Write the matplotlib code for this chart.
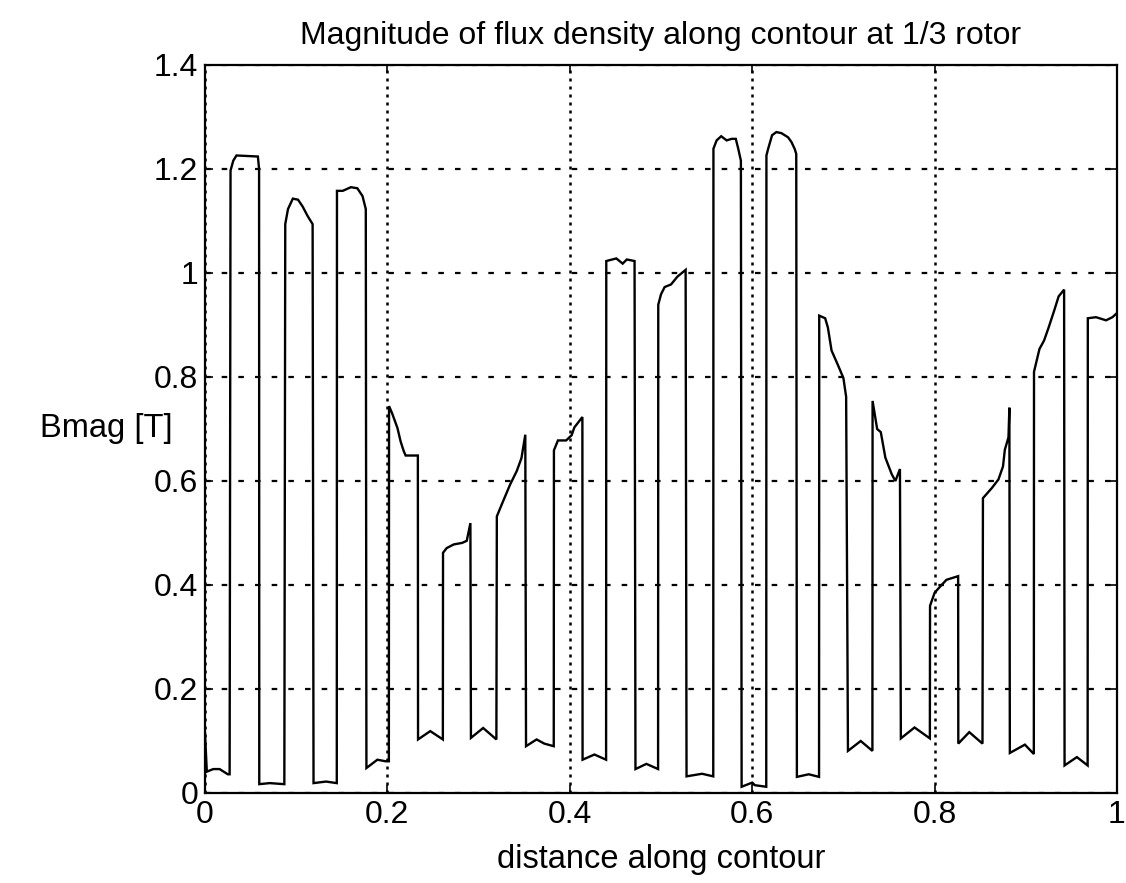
"""Magnitude of flux density along a contour at 1/3 of the rotor (scanned MATLAB-style plot)."""
import matplotlib
matplotlib.use("Agg")
import matplotlib.pyplot as plt
from matplotlib.ticker import FormatStrFormatter

plt.rcParams["font.family"] = ["Liberation Sans", "DejaVu Sans"]

# trace: normalised distance along contour -> |B| in tesla
dist = [
    0.000, 0.002, 0.009, 0.016, 0.025, 0.027,
    0.028, 0.031, 0.0345, 0.058, 0.0593,
    0.0595, 0.071, 0.087,
    0.088, 0.091, 0.0963, 0.102, 0.107, 0.1127, 0.118,
    0.119, 0.1327, 0.1445,
    0.1447, 0.151, 0.160, 0.167, 0.1727, 0.1763,
    0.177, 0.189, 0.198, 0.2016,
    0.2018, 0.205, 0.211, 0.2145, 0.218, 0.220, 0.2334,
    0.2336, 0.247, 0.2608,
    0.261, 0.265, 0.2727, 0.282, 0.287, 0.291,
    0.2916, 0.305, 0.3195,
    0.320, 0.3254, 0.3345, 0.3418, 0.347, 0.3512,
    0.352, 0.3636, 0.372, 0.3824,
    0.3826, 0.387, 0.396, 0.402, 0.405, 0.4138,
    0.414, 0.427, 0.4398,
    0.440, 0.451, 0.458, 0.4625, 0.471,
    0.472, 0.484, 0.4968,
    0.497, 0.500, 0.504, 0.511, 0.518, 0.527,
    0.528, 0.545, 0.5573,
    0.5575, 0.561, 0.566, 0.572, 0.5775, 0.582, 0.5847, 0.5876,
    0.5884, 0.600, 0.603, 0.6154,
    0.6156, 0.6175, 0.6218, 0.6265, 0.632, 0.6393, 0.643, 0.6465, 0.6483,
    0.649, 0.662, 0.6733,
    0.6735, 0.680, 0.683, 0.687, 0.694, 0.700, 0.703,
    0.705, 0.719, 0.7318,
    0.732, 0.737, 0.741, 0.746, 0.753, 0.757, 0.762,
    0.763, 0.778, 0.7948,
    0.795, 0.800, 0.804, 0.813, 0.8258,
    0.826, 0.838, 0.8525,
    0.853, 0.863, 0.870, 0.875, 0.877, 0.881, 0.882,
    0.8825, 0.899, 0.9088,
    0.909, 0.915, 0.920, 0.925, 0.931, 0.936, 0.942,
    0.9425, 0.956, 0.9678,
    0.968, 0.977, 0.988, 0.995, 1.000,
]
bmag = [
    0.115, 0.041, 0.046, 0.046, 0.036, 0.036,
    1.197, 1.216, 1.226, 1.224, 1.200,
    0.017, 0.019, 0.017,
    1.094, 1.123, 1.143, 1.141, 1.128, 1.109, 1.094,
    0.019, 0.022, 0.019,
    1.158, 1.158, 1.165, 1.163, 1.148, 1.123,
    0.048, 0.064, 0.061, 0.061,
    0.744, 0.731, 0.702, 0.676, 0.657, 0.649, 0.649,
    0.103, 0.119, 0.103,
    0.462, 0.471, 0.478, 0.481, 0.485, 0.519,
    0.106, 0.125, 0.103,
    0.532, 0.555, 0.593, 0.619, 0.644, 0.689,
    0.090, 0.103, 0.095, 0.090,
    0.659, 0.678, 0.678, 0.688, 0.703, 0.723,
    0.064, 0.074, 0.064,
    1.023, 1.028, 1.018, 1.026, 1.023,
    0.046, 0.056, 0.046,
    0.939, 0.959, 0.973, 0.978, 0.993, 1.006,
    0.032, 0.037, 0.032,
    1.239, 1.255, 1.263, 1.255, 1.258, 1.258, 1.239, 1.216,
    0.012, 0.020, 0.015, 0.012,
    1.226, 1.239, 1.265, 1.271, 1.269, 1.261, 1.252, 1.239, 1.229,
    0.031, 0.036, 0.031,
    0.918, 0.913, 0.895, 0.851, 0.823, 0.798, 0.762,
    0.081, 0.100, 0.081,
    0.754, 0.700, 0.694, 0.645, 0.613, 0.600, 0.623,
    0.105, 0.126, 0.105,
    0.360, 0.385, 0.393, 0.410, 0.417,
    0.095, 0.117, 0.095,
    0.567, 0.587, 0.603, 0.628, 0.660, 0.684, 0.741,
    0.077, 0.093, 0.075,
    0.810, 0.854, 0.870, 0.895, 0.927, 0.955, 0.968,
    0.053, 0.069, 0.053,
    0.913, 0.915, 0.909, 0.915, 0.923,
]

xticks = [0, 0.2, 0.4, 0.6, 0.8, 1.0]
yticks = [0, 0.2, 0.4, 0.6, 0.8, 1.0, 1.2, 1.4]

W, H = 1126, 883
# axes box in pixels: left, right, top, bottom
L, R, T, B = 205, 1117, 65, 793

fig = plt.figure(figsize=(W / 100, H / 100), dpi=100)
ax = fig.add_axes([L / W, 1 - B / H, (R - L) / W, (B - T) / H])

ax.plot(dist, bmag, color="black", lw=1.7, solid_joinstyle="miter")

ax.set_xlim(0, 1)
ax.set_ylim(0, 1.4)
ax.set_xticks(xticks)
ax.set_yticks(yticks)
ax.xaxis.set_major_formatter(FormatStrFormatter("%g"))
ax.yaxis.set_major_formatter(FormatStrFormatter("%g"))
ax.tick_params(direction="in", length=6, width=1.2, top=True, right=True,
               labelsize=23, pad=5, colors="black")

# MATLAB "grid on": dotted black lines, the scan makes horizontals look dashed
ax.grid(axis="x", color="black", lw=1.8, linestyle=(0, (1.2, 2.0)))
ax.grid(axis="y", color="black", lw=1.6, linestyle=(0, (2.5, 5)))

for s in ax.spines.values():
    s.set_color("black")
    s.set_linewidth(1.6)

ax.set_title("Magnitude of flux density along contour at 1/3 rotor",
             fontsize=23, pad=15)
ax.set_xlabel("distance along contour", fontsize=23.5, labelpad=10)
ax.set_ylabel("Bmag [T]", fontsize=23.5, rotation=0, ha="center", va="center")
ax.yaxis.set_label_coords(-0.108, 0.5)

fig.savefig("out.png", dpi=100, facecolor="white")
